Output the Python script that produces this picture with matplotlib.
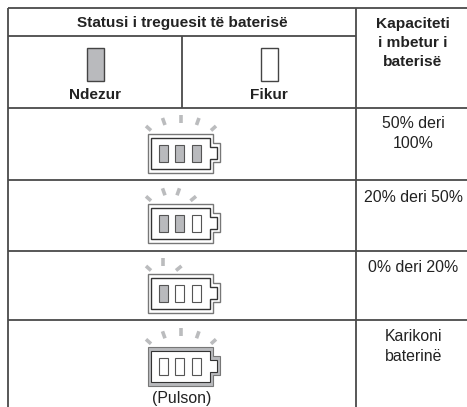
import matplotlib
matplotlib.use('Agg')
import matplotlib.pyplot as plt
from matplotlib.patches import Rectangle, Polygon

plt.rcParams['font.family'] = ['Liberation Sans', 'DejaVu Sans']

header_left = 'Statusi i treguesit të baterisë'
header_right = 'Kapaciteti\ni mbetur i\nbaterisë'
state_labels = ['Ndezur', 'Fikur']
capacity_labels = ['50% deri\n100%', '20% deri 50%', '0% deri 20%', 'Karikoni\nbaterinë']
lit_cells = [3, 2, 1, 0]
ray_counts = [5, 4, 3, 5]
battery_tops = [134, 204.3, 274, 347.3]
row_lines = [107.5, 180, 250.5, 320]

LINE = '#4a4a4a'
GREY = '#b9babd'
TEXT = '#222222'
RAY = '#bbbcbe'

fig = plt.figure(figsize=(4.67, 4.07), dpi=100)
ax = fig.add_axes([0, 0, 1, 1])
ax.set_xlim(0, 467)
ax.set_ylim(407, 0)
ax.axis('off')

def hline(y, x0, x1):
	ax.plot([x0, x1], [y, y], color=LINE, lw=1.3, solid_capstyle='butt')

def vline(x, y0, y1):
	ax.plot([x, x], [y0, y1], color=LINE, lw=1.3, solid_capstyle='butt')

def battery(top, lit, rays, pulse):
	left = 147.5
	# outer shell with the tip on the right
	outer = [(left, top), (213, top), (213, top+9), (220, top+9), (220, top+28),
		(213, top+28), (213, top+38.5), (left, top+38.5)]
	inner = [(151, top+3.5), (210, top+3.5), (210, top+12.5), (216.5, top+12.5), (216.5, top+24.5),
		(210, top+24.5), (210, top+35), (151, top+35)]
	if pulse:
		ax.add_patch(Polygon(outer, closed=True, fc=GREY, ec='#777777', lw=0.8))
		ax.add_patch(Polygon(inner, closed=True, fc='white', ec='#333333', lw=0.8))
	else:
		ax.add_patch(Polygon(outer, closed=True, fc='white', ec='#777777', lw=1.0))
		ax.add_patch(Polygon(inner, closed=True, fc='white', ec='#333333', lw=1.0))
	for i, cx in enumerate([158.5, 175, 191.5]):
		on = i < lit
		ax.add_patch(Rectangle((cx, top+10.5), 9, 17, fc=GREY if on else 'white', ec='#555555', lw=0.8))
	# rays over the battery
	five = [(146, -8, 151, -3.5), (162.5, -16, 165, -9), (181, -19, 181, -11.5),
		(199, -16, 196.5, -9), (216, -8, 211, -3.5)]
	four = [(146, -8, 151, -3.5), (162.5, -16, 165, -9), (179.5, -16, 177, -9),
		(196, -8, 190.5, -3.5)]
	three = [(146, -8, 151, -3.5), (163, -16, 163, -8.5), (181.5, -8, 176, -3.5)]
	spec = {5: five, 4: four, 3: three}[rays]
	for x0, y0, x1, y1 in spec:
		ax.plot([x0, x1], [top+y0, top+y1], color=RAY, lw=2.6, solid_capstyle='butt')

hline(8, 8, 467)
hline(36, 8, 356)
for y in row_lines:
	hline(y, 8, 467)
vline(8, 7.5, 407)
vline(182, 36, 107.5)
vline(356, 7.5, 407)

ax.text(182, 22.5, header_left, ha='center', va='center', fontsize=11.1, fontweight='bold', color=TEXT)
ax.text(413, 43, header_right, ha='center', va='center', fontsize=11.1, fontweight='bold', color=TEXT, linespacing=1.46)
ax.text(95, 95, state_labels[0], ha='center', va='center', fontsize=11.1, fontweight='bold', color=TEXT)
ax.text(269, 95, state_labels[1], ha='center', va='center', fontsize=11.1, fontweight='bold', color=TEXT)

ax.add_patch(Rectangle((86.5, 47.5), 17, 33, fc=GREY, ec='#444444', lw=1.0))
ax.add_patch(Rectangle((260.5, 47.5), 17, 33, fc='white', ec='#444444', lw=1.0))

cap_y = [133.5, 197, 268, 346.5]
for y, lab in zip(cap_y, capacity_labels):
	ax.text(413.5, y, lab, ha='center', va='center', fontsize=11.4, color=TEXT, linespacing=1.35)

for top, lit, rays in zip(battery_tops, lit_cells, ray_counts):
	battery(top, lit, rays, lit == 0)

ax.text(182, 399, '(Pulson)', ha='center', va='center', fontsize=11.4, color=TEXT)

fig.savefig('out.png', dpi=100)
